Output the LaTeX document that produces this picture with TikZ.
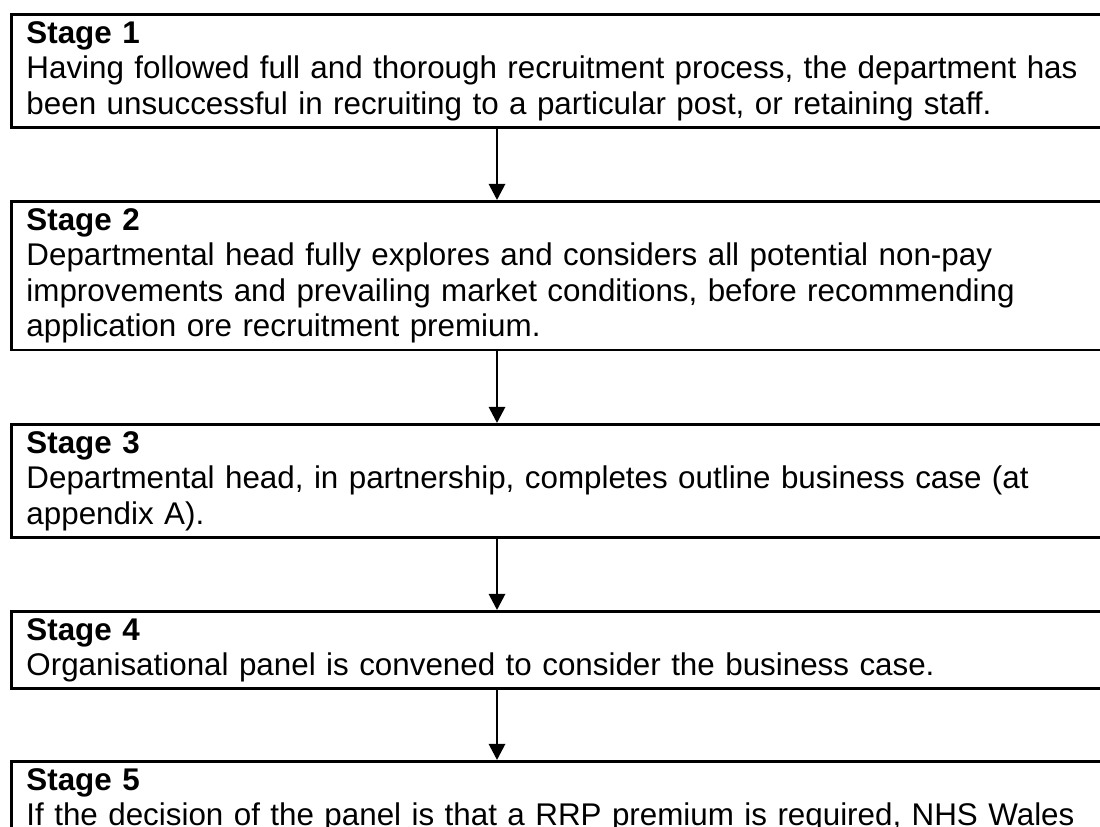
\documentclass[tikz,border=0pt]{standalone}
\usepackage{fontspec}
\setmainfont{Liberation Sans}
\usetikzlibrary{arrows.meta}
\begin{document}
\begin{tikzpicture}[x=0.025cm,y=-0.025cm,
    stagebox/.style={draw, line width=2pt, rectangle, anchor=north west,
        text width=820pt, align=left, inner xsep=10.7pt, inner ysep=4.8pt,
        font=\fontsize{22.3}{25.3}\selectfont},
    flow/.style={line width=2pt, -{Triangle[width=11.5pt,length=11.5pt]}}]
    % Moldura
    \useasboundingbox (0,0) rectangle (1100,827);
    \clip (0,0) rectangle (1100,827);
    
    % Etapas
    \node[stagebox, minimum height=79pt] (s1) at (10,13)
        {\textbf{Stage 1}\\Having followed full and thorough recruitment process, the department has\\been unsuccessful in recruiting to a particular post, or retaining staff.};
    \node[stagebox, minimum height=105.3pt] (s2) at (10,200)
        {\textbf{Stage 2}\\Departmental head fully explores and considers all potential non-pay\\improvements and prevailing market conditions, before recommending\\application ore recruitment premium.};
    \node[stagebox, minimum height=79pt] (s3) at (10,423)
        {\textbf{Stage 3}\\Departmental head, in partnership, completes outline business case (at\\appendix A).};
    \node[stagebox, minimum height=52.6pt] (s4) at (10,610)
        {\textbf{Stage 4}\\Organisational panel is convened to consider the business case.};
    \node[stagebox] (s5) at (10,760)
        {\textbf{Stage 5}\\If the decision of the panel is that a RRP premium is required, NHS Wales};
    
    % Setas
    \coordinate (mid) at (497,0);
    \foreach \a/\b in {s1/s2,s2/s3,s3/s4,s4/s5}
        \draw[flow] (\a.south -| mid) -- (\b.north -| mid);
\end{tikzpicture}
\end{document}
